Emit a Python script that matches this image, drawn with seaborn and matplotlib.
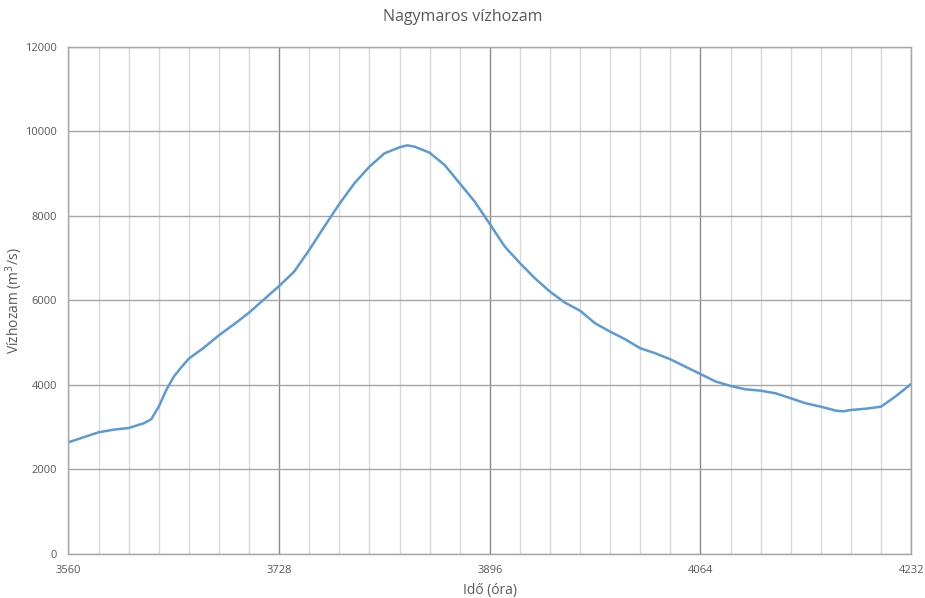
import pandas as pd
import matplotlib.pyplot as plt
import seaborn as sns

# Nagymaros, vízhozam a kép alapján leolvasva
ora = [3560, 3572, 3584, 3596, 3608, 3620, 3626, 3632, 3638, 3644, 3650, 3656,
       3668, 3680, 3692, 3704, 3716, 3728, 3740, 3752, 3764, 3776, 3788, 3800,
       3812, 3824, 3830, 3836, 3848, 3860, 3872, 3884, 3896, 3908, 3920, 3932,
       3944, 3956, 3968, 3980, 3992, 4004, 4016, 4028, 4040, 4052, 4064, 4076,
       4088, 4100, 4112, 4124, 4136, 4148, 4160, 4172, 4178, 4184, 4196, 4208,
       4220, 4232]
vizhozam = [2641, 2759, 2877, 2940, 2979, 3090, 3185, 3483, 3878, 4193, 4415, 4619,
            4879, 5172, 5432, 5706, 6022, 6337, 6676, 7189, 7740, 8276, 8765, 9158,
            9474, 9616, 9664, 9632, 9490, 9198, 8765, 8331, 7803, 7267, 6880, 6519,
            6203, 5943, 5753, 5455, 5257, 5077, 4864, 4746, 4604, 4429, 4256, 4080,
            3973, 3894, 3862, 3800, 3682, 3563, 3483, 3389, 3374, 3405, 3436, 3483,
            3736, 4020]

x_fo = list(range(3560, 4233, 168))
x_mellek = list(range(3560, 4233, 24))
y_fo = list(range(0, 12001, 2000))

sns.set_style('white')
plt.rcParams['font.family'] = ['Open Sans', 'DejaVu Sans']

SZURKE = '#595959'


def plot_vizhozam(df: pd.DataFrame) -> None:
    fig = plt.figure(figsize=(9.25, 5.98), dpi=100)
    ax = fig.add_axes([0.074, 0.0736, 0.911, 0.8486])

    sns.lineplot(ax=ax, data=df, x='ora', y='vizhozam', color='#5B9BD5', linewidth=1.8)

    ax.set_xlim(3560, 4232)
    ax.set_ylim(0, 12000)
    ax.set_xticks(x_fo)
    ax.set_xticks(x_mellek, minor=True)
    ax.set_yticks(y_fo)

    ax.grid(axis='x', which='major', color='#8a8a8a', linewidth=1)
    ax.grid(axis='x', which='minor', color='#d9d9d9', linewidth=1)
    ax.grid(axis='y', which='major', color='#a6a6a6', linewidth=1)
    ax.set_axisbelow(True)

    for side in ['top', 'right', 'left', 'bottom']:
        ax.spines[side].set_color('#a6a6a6')
        ax.spines[side].set_linewidth(1)

    ax.tick_params(axis='both', which='both', length=0, labelsize=8, colors=SZURKE)
    ax.tick_params(axis='x', pad=8)
    ax.tick_params(axis='y', pad=8)

    fig.suptitle('Nagymaros vízhozam', x=0.5, y=0.985, va='top', fontsize=11.5, color=SZURKE)
    ax.set_xlabel('Idő (óra)', fontsize=10, color=SZURKE, labelpad=5)
    ax.set_ylabel('Vízhozam (m$^3$/s)', fontsize=10, color=SZURKE)
    ax.yaxis.set_label_coords(-0.052, 0.5)

    fig.savefig('out.png', dpi=100)


def main() -> None:
    df = pd.DataFrame({'ora': ora, 'vizhozam': vizhozam})
    plot_vizhozam(df)


main()
